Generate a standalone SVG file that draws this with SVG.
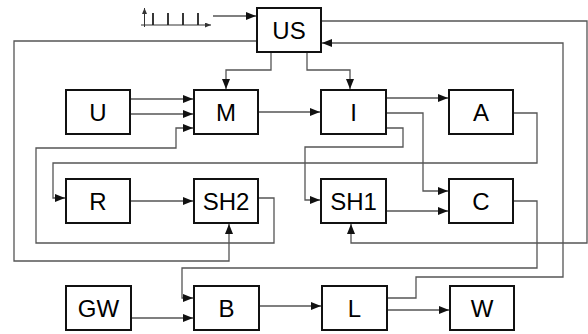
<svg xmlns="http://www.w3.org/2000/svg" width="588" height="334" viewBox="0 0 588 334">
<defs>
<marker id="ah" viewBox="0 0 10 8" refX="10" refY="4" markerWidth="10" markerHeight="8" markerUnits="userSpaceOnUse" orient="auto">
<path d="M0,0 L10,4 L0,8 z" fill="#111"/>
</marker>
<marker id="sh" viewBox="0 0 6 5" refX="6" refY="2.5" markerWidth="6" markerHeight="5" markerUnits="userSpaceOnUse" orient="auto">
<path d="M0,0 L6,2.5 L0,5 z" fill="#333"/>
</marker>
</defs>
<style>
.box{fill:#fff;stroke:#111;stroke-width:2}
.lbl{font-family:"Liberation Sans",Arial,sans-serif;font-size:24px;fill:#000;text-anchor:middle;dominant-baseline:central}
.c{fill:none;stroke:#555;stroke-width:1.3}
.ca{fill:none;stroke:#555;stroke-width:1.3;marker-end:url(#ah)}
</style>
<rect width="588" height="334" fill="#fff"/>
<g id="pulse">
<path d="M144.5,27 V8" fill="none" stroke="#333" stroke-width="1" marker-end="url(#sh)"/>
<path d="M141,25 H211" fill="none" stroke="#333" stroke-width="1" marker-end="url(#sh)"/>
<path d="M153,13 V25 M168,13 V25 M183,13 V25 M198,13 V25" stroke="#222" stroke-width="1.8"/>
</g>
<g id="connectors">
<path class="ca" d="M213,16 H256"/>
<path class="ca" d="M257,41 H14 V261 H229 V224"/>
<path class="ca" d="M271,52 V70 H226 V89"/>
<path class="ca" d="M307,52 V70 H350 V89"/>
<path class="ca" d="M321,21 H587 V243 H351 V224"/>
<path class="ca" d="M387,298 H416 V277 H563 V43 H322"/>
<path class="ca" d="M130,99 H193"/>
<path class="ca" d="M130,114 H193"/>
<path class="ca" d="M258,198 H274 V243 H36 V148 H176 V128 H193"/>
<path class="ca" d="M258,112 H320"/>
<path class="ca" d="M386,98 H448"/>
<path class="ca" d="M386,113 H423 V191 H448"/>
<path class="ca" d="M386,128 H403 V147 H305 V200 H320"/>
<path class="ca" d="M513,113 H537 V163 H53 V198 H65"/>
<path class="ca" d="M130,201 H193"/>
<path class="ca" d="M386,211 H448"/>
<path class="ca" d="M513,201 H537 V268 H182 V298 H193"/>
<path class="ca" d="M131,318 H193"/>
<path class="ca" d="M259,306 H321"/>
<path class="ca" d="M387,310 H449"/>
</g>
<g id="US"><rect class="box" x="257" y="8" width="64" height="44"/><text class="lbl" x="289" y="30">US</text></g>
<g id="U"><rect class="box" x="66" y="90" width="64" height="44"/><text class="lbl" x="98" y="112">U</text></g>
<g id="M"><rect class="box" x="194" y="90" width="64" height="44"/><text class="lbl" x="226" y="112">M</text></g>
<g id="I"><rect class="box" x="321" y="90" width="65" height="44"/><text class="lbl" x="353.5" y="112">I</text></g>
<g id="A"><rect class="box" x="449" y="90" width="64" height="44"/><text class="lbl" x="481" y="112">A</text></g>
<g id="R"><rect class="box" x="66" y="179" width="64" height="44"/><text class="lbl" x="98" y="201">R</text></g>
<g id="SH2"><rect class="box" x="194" y="179" width="64" height="44"/><text class="lbl" x="226" y="201">SH2</text></g>
<g id="SH1"><rect class="box" x="321" y="179" width="65" height="44"/><text class="lbl" x="353.5" y="201">SH1</text></g>
<g id="C"><rect class="box" x="449" y="179" width="64" height="44"/><text class="lbl" x="481" y="201">C</text></g>
<g id="GW"><rect class="box" x="66" y="286" width="65" height="44"/><text class="lbl" x="98.5" y="308">GW</text></g>
<g id="B"><rect class="box" x="194" y="286" width="65" height="44"/><text class="lbl" x="226.5" y="308">B</text></g>
<g id="L"><rect class="box" x="322" y="286" width="65" height="44"/><text class="lbl" x="354.5" y="308">L</text></g>
<g id="W"><rect class="box" x="450" y="286" width="64" height="44"/><text class="lbl" x="482" y="308">W</text></g>
</svg>
